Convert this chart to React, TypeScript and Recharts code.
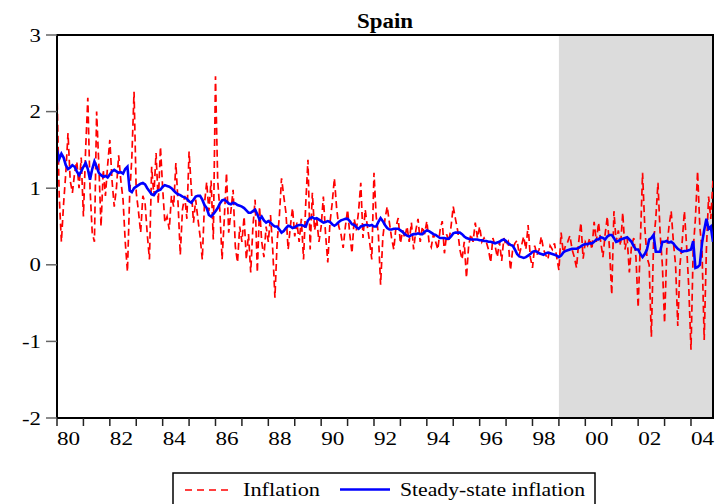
import React from 'react';
import { ComposedChart, Line, XAxis, YAxis, ReferenceArea } from 'recharts';

const START_YEAR = 1980;
const FORECAST_START = 228; // 1999:01 (month index)
const LAST_INDEX = 298; // 2004:11

const inflation = [
  2.26, 0.9, 0.3, 0.8, 1.2, 1.72, 1.1, 0.94, 1.2, 1.35,
  1.0, 1.4, 0.63, 1.5, 2.18, 1.0, 0.42, 0.3, 2.0, 1.3,
  0.5, 1.24, 0.9, 1.3, 1.63, 1.1, 0.76, 1.0, 1.43, 1.1,
  0.85, 0.3, -0.09, 0.9, 1.4, 2.26, 0.94, 0.7, 0.42, 0.9,
  0.81, 0.4, 0.07, 1.28, 0.9, 1.46, 0.8, 1.54, 1.0, 0.55,
  0.63, 0.46, 0.9, 0.76, 1.33, 0.8, 0.13, 0.72, 0.9, 0.6,
  1.48, 1.0, 0.55, 0.85, 0.6, 0.37, 0.07, 0.8, 1.08, 0.7,
  1.1, 0.33, 2.46, 1.1, 0.7, 0.07, 0.6, 1.2, 0.42, 0.7,
  0.98, 0.24, 0.03, 0.5, 0.3, 0.63, 0.07, 0.4, -0.1, 0.5,
  0.85, -0.1, 0.76, 0.3, 0.1, 0.5, 0.3, 0.65, 0.2, -0.43,
  0.3, 0.63, 1.13, 0.9, 0.68, 0.2, 0.5, 0.74, 0.37, 0.55,
  0.3, 0.6, 0.07, 0.8, 1.37, 0.2, 0.94, 0.45, 0.6, 0.3,
  0.5, 0.89, 0.4, 0.03, 0.55, 0.8, 1.13, 0.75, 0.5, 0.4,
  0.22, 0.5, 0.72, 0.4, 0.15, 0.6, 0.45, 0.7, 1.07, 0.35,
  0.72, 0.5, 0.3, 0.07, 1.2, 0.63, 0.4, -0.26, 0.35, 0.6,
  0.76, 0.55, 0.35, 0.2, 0.5, 0.61, 0.28, 0.45, 0.35, 0.5,
  0.3, 0.55, 0.2, 0.45, 0.6, 0.3, 0.5, 0.4, 0.57, 0.3,
  0.23, 0.4, 0.3, 0.2, 0.45, 0.57, 0.15, 0.4, 0.3, 0.5,
  0.76, 0.6, 0.45, 0.2, 0.07, 0.3, -0.17, 0.25, 0.4, 0.3,
  0.55, 0.35, 0.5, 0.3, 0.35, 0.3, 0.2, 0.03, 0.35, 0.25,
  0.1, 0.3, 0.05, 0.35, 0.25, 0.3, -0.07, 0.2, 0.28, 0.32,
  0.13, 0.25, 0.37, 0.2, 0.52, 0.1, -0.04, 0.25, 0.13, 0.2,
  0.37, 0.2, 0.13, 0.07, 0.25, 0.2, 0.28, 0.1, -0.07, 0.42,
  0.15, 0.25, 0.3, 0.38, 0.2, 0.1, -0.04, 0.3, 0.55, 0.08,
  0.3, 0.25, 0.35, 0.2, 0.56, 0.3, 0.55, 0.3, 0.1, 0.4,
  0.63, 0.2, -0.39, 0.7, 0.3, 0.45, 0.25, 0.68, 0.2, 0.35,
  -0.1, 0.25, 0.35, 0.1, -0.56, 0.3, 1.2, 0.5, 0.1, 0.0,
  -0.94, 0.3, 0.6, 1.07, 0.4, 0.0, -0.76, 0.2, 0.5, 0.7,
  0.3, 0.0, -0.8, 0.0, 0.3, 0.7, 0.25, -0.3, -1.11, 0.2,
  0.6, 1.22, 0.5, 0.2, -0.98, 0.2, 0.89, 0.6, 1.11,
];

const steadyState = [
  1.5, 1.38, 1.45, 1.4, 1.3, 1.25, 1.27, 1.3, 1.28, 1.22,
  1.17, 1.22, 1.28, 1.33, 1.25, 1.11, 1.25, 1.35, 1.28, 1.2,
  1.17, 1.15, 1.16, 1.14, 1.18, 1.22, 1.24, 1.22, 1.2, 1.21,
  1.19, 1.25, 1.28, 0.97, 0.95, 1.0, 1.02, 1.04, 1.06, 1.07,
  1.05, 1.0, 0.96, 0.92, 0.91, 0.95, 0.97, 0.98, 1.02, 1.04,
  1.03, 1.02, 1.0, 0.97, 0.94, 0.92, 0.91, 0.89, 0.88, 0.86,
  0.83, 0.81, 0.85, 0.89, 0.9, 0.9, 0.85, 0.78, 0.74, 0.65,
  0.63, 0.66, 0.7, 0.74, 0.8, 0.84, 0.85, 0.83, 0.8, 0.79,
  0.81, 0.8, 0.78, 0.77, 0.76, 0.74, 0.71, 0.68, 0.68, 0.7,
  0.72, 0.66, 0.59, 0.63, 0.58, 0.55, 0.57, 0.55, 0.52, 0.5,
  0.5, 0.46, 0.42, 0.44, 0.48, 0.51, 0.5, 0.48, 0.49, 0.51,
  0.52, 0.52, 0.51, 0.5, 0.58, 0.61, 0.62, 0.6, 0.61, 0.59,
  0.57, 0.55, 0.56, 0.57, 0.56, 0.53, 0.51, 0.53, 0.56, 0.58,
  0.59, 0.6, 0.6, 0.57, 0.53, 0.52, 0.49, 0.47, 0.5, 0.51,
  0.52, 0.52, 0.51, 0.52, 0.5, 0.5, 0.56, 0.61, 0.57, 0.52,
  0.48, 0.46, 0.46, 0.47, 0.47, 0.47, 0.45, 0.43, 0.4, 0.38,
  0.37, 0.39, 0.4, 0.4, 0.41, 0.4, 0.4, 0.43, 0.45, 0.44,
  0.42, 0.4, 0.39, 0.37, 0.35, 0.35, 0.35, 0.34, 0.34, 0.37,
  0.41, 0.42, 0.42, 0.42, 0.4, 0.37, 0.35, 0.34, 0.33, 0.33,
  0.33, 0.33, 0.32, 0.32, 0.31, 0.31, 0.3, 0.3, 0.29, 0.28,
  0.29, 0.3, 0.32, 0.33, 0.31, 0.28, 0.26, 0.25, 0.2, 0.14,
  0.11, 0.1, 0.09, 0.1, 0.12, 0.14, 0.17, 0.18, 0.17, 0.15,
  0.14, 0.13, 0.15, 0.16, 0.15, 0.14, 0.13, 0.12, 0.1, 0.12,
  0.16, 0.18, 0.19, 0.2, 0.21, 0.21, 0.21, 0.22, 0.24, 0.26,
  0.27, 0.27, 0.28, 0.28, 0.3, 0.33, 0.33, 0.36, 0.35, 0.33,
  0.37, 0.39, 0.39, 0.35, 0.3, 0.31, 0.33, 0.34, 0.35, 0.36,
  0.33, 0.3, 0.24, 0.2, 0.2, 0.14, 0.1, 0.14, 0.2, 0.33,
  0.35, 0.39, 0.17, 0.17, 0.17, 0.3, 0.3, 0.31, 0.29, 0.3,
  0.28, 0.24, 0.21, 0.19, 0.17, 0.18, 0.18, 0.19, 0.2, 0.31,
  -0.04, -0.03, 0.0, 0.28, 0.45, 0.6, 0.47, 0.5, 0.3,
];

const yTicks = [-2, -1, 0, 1, 2, 3];
const yearTicks = [0, 12, 24, 36, 48, 60, 72, 84, 96, 108, 120, 132, 144, 156, 168, 180, 192, 204, 216, 228, 240, 252, 264, 276, 288];
const seriesNames = ['Inflation', 'Steady-state inflation'];
const title = 'Spain';

const data = inflation.map((v, i) => ({ t: i, inflation: v, steady: steadyState[i] }));

const FONT = "'Liberation Serif', 'Times New Roman', serif";

const XTick = (props: any) => {
  const { x, y, payload } = props;
  const k = Math.round(payload.value / 12);
  if (k % 2 !== 0) return <g />;
  const label = String((START_YEAR + k) % 100).padStart(2, '0');
  return (
    <text
      transform={`translate(${x},${y + 17}) scale(1.22,1)`}
      textAnchor="start"
      fontFamily={FONT}
      fontSize={19}
      fill="#000"
    >
      {label}
    </text>
  );
};

const YTick = (props: any) => {
  const { x, y, payload } = props;
  return (
    <text
      transform={`translate(${x},${y + 6.5}) scale(1.2,1)`}
      textAnchor="end"
      fontFamily={FONT}
      fontSize={19}
      fill="#000"
    >
      {payload.value}
    </text>
  );
};

export default function App() {
  return (
    <div style={{ position: 'absolute', left: 0, top: 0, width: 719, height: 504, overflow: 'hidden', background: '#fff' }}>
      <ComposedChart
        width={719}
        height={504}
        data={data}
        margin={{ top: 35, right: 6, bottom: 46, left: 0 }}
      >
        <XAxis
          dataKey="t"
          type="number"
          domain={[0, LAST_INDEX]}
          ticks={yearTicks}
          interval={0}
          height={40}
          tickSize={8}
          tickMargin={2}
          tickLine={{ stroke: '#222', strokeWidth: 1.5 }}
          axisLine={{ stroke: '#000', strokeWidth: 2 }}
          tick={<XTick />}
          allowDataOverflow
        />
        <YAxis
          type="number"
          domain={[-2, 3]}
          ticks={yTicks}
          interval={0}
          width={57}
          tickSize={11}
          tickMargin={5}
          tickLine={{ stroke: '#666', strokeWidth: 1.5 }}
          axisLine={{ stroke: '#000', strokeWidth: 2 }}
          tick={<YTick />}
          allowDataOverflow
        />
        <ReferenceArea
          x1={FORECAST_START}
          x2={LAST_INDEX}
          y1={-2}
          y2={3}
          fill="#dcdcdc"
          fillOpacity={1}
          stroke="none"
          ifOverflow="visible"
        />
        <Line
          type="linear"
          dataKey="inflation"
          name={seriesNames[0]}
          stroke="#ff0000"
          strokeWidth={1.7}
          strokeDasharray="7 4"
          dot={false}
          isAnimationActive={false}
        />
        <Line
          type="linear"
          dataKey="steady"
          name={seriesNames[1]}
          stroke="#0000ff"
          strokeWidth={2.6}
          dot={false}
          isAnimationActive={false}
        />
        <ReferenceArea
          x1={0}
          x2={LAST_INDEX}
          y1={-2}
          y2={3}
          fill="none"
          stroke="#000"
          strokeWidth={2}
          ifOverflow="visible"
        />
      </ComposedChart>
      <svg
        width={719}
        height={504}
        style={{ position: 'absolute', left: 0, top: 0, pointerEvents: 'none' }}
      >
        <text x={357} y={28} fontFamily={FONT} fontSize={20} fontWeight="bold" textLength={56} lengthAdjust="spacingAndGlyphs" fill="#000">
          {title}
        </text>
        <rect x={173} y={473} width={422} height={40} fill="#fff" stroke="#000" strokeWidth={1.5} />
        <line x1={185} x2={232} y1={490} y2={490} stroke="#ff0000" strokeWidth={1.5} strokeDasharray="7 5" />
        <text x={243} y={496} fontFamily={FONT} fontSize={19} textLength={77} lengthAdjust="spacingAndGlyphs" fill="#000">
          {seriesNames[0]}
        </text>
        <line x1={340} x2={390} y1={489.5} y2={489.5} stroke="#0000ff" strokeWidth={2.6} />
        <text x={400} y={496} fontFamily={FONT} fontSize={19} textLength={185} lengthAdjust="spacingAndGlyphs" fill="#000">
          {seriesNames[1]}
        </text>
      </svg>
    </div>
  );
}
